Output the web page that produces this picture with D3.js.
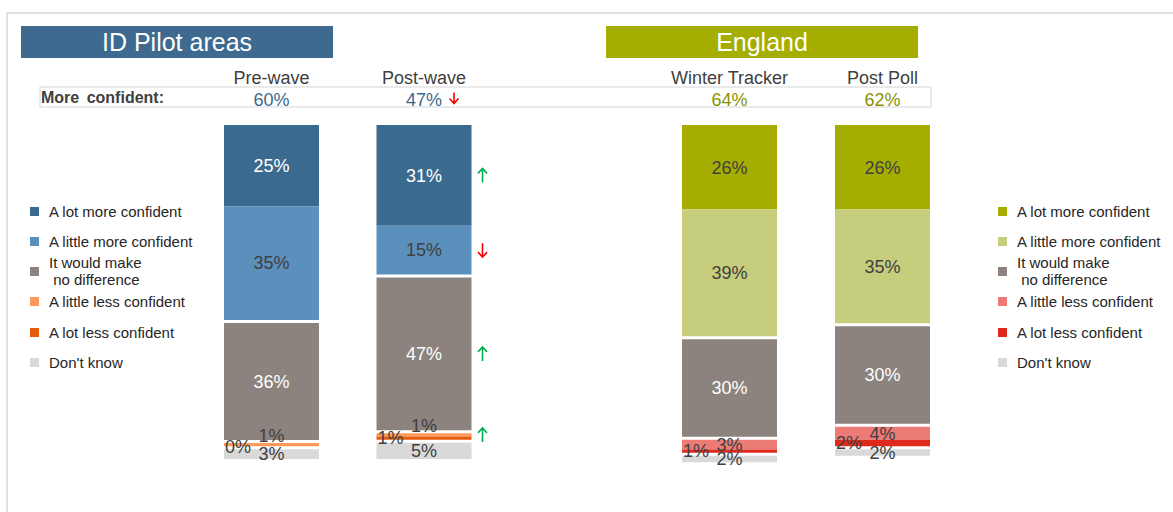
<!DOCTYPE html>
<html>
<head>
<meta charset="utf-8">
<script src="https://cdn.jsdelivr.net/npm/d3@7"></script>
<style>
  body { margin: 0; background: #fff; }
  svg { display: block; font-family: "Liberation Sans", Arial, sans-serif; }
</style>
</head>
<body>
<div id="chart"></div>
<script>
// answer categories, top of the bar first
const categories = [
  "A lot more confident",
  "A little more confident",
  "It would make\n no difference",
  "A little less confident",
  "A lot less confident",
  "Don't know",
];
const pilotColumns = ["Pre-wave", "Post-wave"];
const englandColumns = ["Winter Tracker", "Post Poll"];

const preWave = [25, 35, 36, 1, 0, 3];
const postWave = [31, 15, 47, 1, 1, 5];
const winterTracker = [26, 39, 30, 3, 1, 2];
const postPoll = [26, 35, 30, 4, 2, 2];

const pilotMoreConfident = [60, 47];
const englandMoreConfident = [64, 62];

// significance markers next to Post-wave
const postWaveChange = ["up", "down", "up", "up", null, null];
const postWaveHeadlineChange = "down";

const pilotColors = ["#3b6a8f", "#5b8fbc", "#8c837e", "#fb9a5b", "#e65c0e", "#d9d9d9"];
const englandColors = ["#a5ae00", "#c6cd7c", "#8c837e", "#ec7a75", "#e0291d", "#d9d9d9"];
const labelColors = {
  pilot: ["#ffffff", "#404040", "#ffffff", "#404040", "#404040", "#404040"],
  england: ["#404040", "#404040", "#ffffff", "#404040", "#404040", "#404040"],
};

const width = 1173;
const height = 512;
const barTop = 125;
const barWidth = 95;
const gapPx = 3;
const gapBefore = [0, 0, 1, 2, 2, 3]; // white gaps between groups

const svg = d3
  .select("#chart")
  .append("svg")
  .attr("width", width)
  .attr("height", height);

// slide frame
svg.append("line").attr("x1", 7).attr("x2", width).attr("y1", 13).attr("y2", 13)
  .attr("stroke", "#d9d9d9").attr("stroke-width", 1.5);
svg.append("line").attr("x1", 7).attr("x2", 7).attr("y1", 13).attr("y2", height)
  .attr("stroke", "#d9d9d9").attr("stroke-width", 1.5);

const y = d3.scaleLinear().domain([0, 100]).range([0, 325]);

const xPilot = d3.scalePoint().domain(pilotColumns).range([271.5, 424]);
const xEngland = d3.scalePoint().domain(englandColumns).range([729.5, 882.5]);

function header(x0, x1, label, color) {
  svg.append("rect").attr("x", x0).attr("y", 26).attr("width", x1 - x0).attr("height", 32)
    .attr("fill", color);
  svg.append("text").attr("x", (x0 + x1) / 2).attr("y", 51)
    .attr("text-anchor", "middle").attr("fill", "#fff").style("font-size", "25px")
    .text(label);
}
header(21, 333, "ID Pilot areas", "#3d6a8e");
header(606, 918, "England", "#a4ad00");

// "More confident" row
svg.append("rect").attr("x", 40).attr("y", 87).attr("width", 891).attr("height", 20)
  .attr("fill", "none").attr("stroke", "#dcdcdc").attr("stroke-width", 1.2);
svg.append("text").attr("x", 41).attr("y", 103).attr("fill", "#404040")
  .style("font-size", "16px").style("font-weight", "bold").style("word-spacing", "3px")
  .text("More confident:");

function drawColumn(x, name, values, colors, textColors, headline, headColor, changes, headChange) {
  svg.append("text").attr("x", x).attr("y", 84).attr("text-anchor", "middle")
    .attr("fill", "#404040").style("font-size", "18px").text(name);
  svg.append("text").attr("x", x).attr("y", 106).attr("text-anchor", "middle")
    .attr("fill", headColor).style("font-size", "18px").text(headline + "%");
  if (headChange) arrow(x + 30, 98, headChange, 11);

  const cum = [0, ...d3.cumsum(values)];
  const segs = values.map((v, i) => ({
    v,
    i,
    top: barTop + y(cum[i]) + gapBefore[i] * gapPx,
    h: y(v),
  }));
  const left = x - barWidth / 2;

  svg.append("g").selectAll("rect").data(segs).join("rect")
    .attr("x", left).attr("width", barWidth)
    .attr("y", (d) => d.top).attr("height", (d) => d.h)
    .attr("fill", (d) => colors[d.i]);

  svg.append("g").selectAll("text").data(segs).join("text")
    .attr("x", (d) => (d.i === 4 ? left + 1 : x))
    .attr("y", (d) => {
      let c = d.top + d.h / 2;
      if (d.i === 3 && d.v < 3) c -= 9;
      return c + 6.3;
    })
    .attr("text-anchor", (d) => (d.i === 4 ? "start" : "middle"))
    .attr("fill", (d) => textColors[d.i])
    .style("font-size", "18px")
    .text((d) => d.v + "%");

  if (changes) {
    segs.forEach((d) => {
      if (changes[d.i]) arrow(x + barWidth / 2 + 11, d.top + d.h / 2, changes[d.i], 14);
    });
  }
}

// thin significance arrow, drawn as a path
function arrow(cx, cy, dir, len) {
  const s = dir === "up" ? -1 : 1;
  const tip = cy + (s * len) / 2;
  const tail = cy - (s * len) / 2;
  const p = d3.path();
  p.moveTo(cx, tail);
  p.lineTo(cx, tip);
  p.moveTo(cx - 4.5, tip - s * 5);
  p.lineTo(cx, tip);
  p.lineTo(cx + 4.5, tip - s * 5);
  svg.append("path").attr("d", p.toString()).attr("fill", "none")
    .attr("stroke", dir === "up" ? "#00b050" : "#ff0000")
    .attr("stroke-width", 1.6);
}

drawColumn(xPilot("Pre-wave"), "Pre-wave", preWave, pilotColors, labelColors.pilot,
  pilotMoreConfident[0], "#3d6a8e");
drawColumn(xPilot("Post-wave"), "Post-wave", postWave, pilotColors, labelColors.pilot,
  pilotMoreConfident[1], "#3d6a8e", postWaveChange, postWaveHeadlineChange);
drawColumn(xEngland("Winter Tracker"), "Winter Tracker", winterTracker, englandColors,
  labelColors.england, englandMoreConfident[0], "#8a9200");
drawColumn(xEngland("Post Poll"), "Post Poll", postPoll, englandColors,
  labelColors.england, englandMoreConfident[1], "#8a9200");

// legends
const legendY = [211.5, 241.5, 271.5, 301.5, 332.5, 362.5];
function legend(x, colors) {
  const g = svg.append("g");
  categories.forEach((c, i) => {
    g.append("rect").attr("x", x).attr("y", legendY[i] - 4.5).attr("width", 9).attr("height", 9)
      .attr("fill", colors[i]);
    const lines = c.split("\n");
    const t = g.append("text").attr("fill", "#262626").style("font-size", "15px")
      .attr("xml:space", "preserve");
    lines.forEach((l, k) => {
      t.append("tspan").attr("x", x + 19)
        .attr("y", legendY[i] + 5 + (k - (lines.length - 1) / 2) * 17)
        .text(l);
    });
  });
}
legend(30, pilotColors);
legend(998, englandColors);
</script>
</body>
</html>
